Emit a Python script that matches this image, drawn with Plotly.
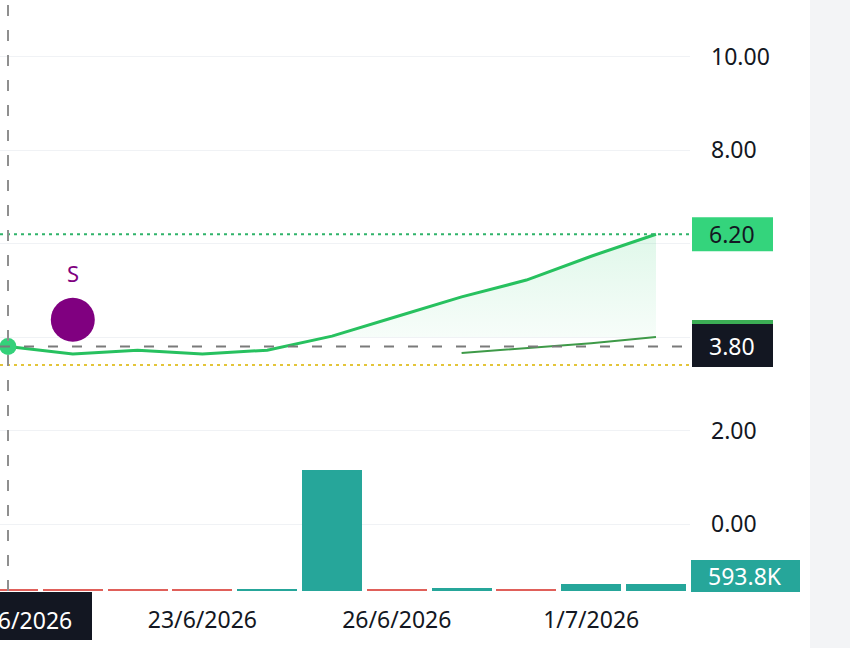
import plotly.graph_objects as go

# ---------------- data ----------------
dates = ["18/6/2026", "19/6/2026", "22/6/2026", "23/6/2026", "24/6/2026", "25/6/2026",
         "26/6/2026", "29/6/2026", "30/6/2026", "1/7/2026", "2/7/2026"]
close = [3.80, 3.64, 3.72, 3.64, 3.72, 4.02, 4.44, 4.86, 5.22, 5.73, 6.20]
ma_dates = ["29/6/2026", "30/6/2026", "1/7/2026", "2/7/2026"]
ma_values = [3.66, 3.77, 3.87, 4.00]
volume = [80e3, 90e3, 90e3, 100e3, 150e3, 9.6e6, 100e3, 250e3, 100e3, 585e3, 593.8e3]
volume_up = [False, False, False, False, True, True, False, True, False, True, True]
tick_dates = ["23/6/2026", "26/6/2026", "1/7/2026"]
price_ticks = [0, 2, 4, 6, 8, 10]
price_tick_text = ["0.00", "2.00", "", "", "8.00", "10.00"]
signal_dates = ["19/6/2026"]
signal_prices = [4.37]
signal_labels = ["S"]
crosshair_date = "18/6/2026"
crosshair_price = 3.80
support_level = 3.40
fill_base = 4.0
volume_label = "593.8K"

# ---------------- geometry helpers ----------------
W, H = 850, 648
PW, PH = 690, 591          # plot area in pixels (left/top at 0)
PX_PER_UNIT = 46.73
ZERO_PX = 524


def xp(px):
    return px / PW


def yp(py):
    return (PH - py) / PH


FONT = "Noto Sans, Open Sans, sans-serif"
TXT = "#131722"
GREEN = "#27c15f"
TEAL = "#26a69a"
RED = "#e0605a"

idx = list(range(len(dates)))
ma_idx = [dates.index(d) for d in ma_dates]
sig_idx = [dates.index(d) for d in signal_dates]
cross_idx = dates.index(crosshair_date)

# fill region where price is above fill_base
fx, fy = [], []
for i in range(1, len(close)):
    a, b = close[i - 1], close[i]
    if a < fill_base <= b:
        t = (fill_base - a) / (b - a)
        fx.append(i - 1 + t)
        fy.append(fill_base)
    if b >= fill_base:
        fx.append(i)
        fy.append(b)
bx = list(fx)
by = [fill_base] * len(fx)

fig = go.Figure()

# volume bars
fig.add_trace(go.Bar(
    x=idx, y=volume, yaxis="y2", width=0.925,
    marker=dict(color=[TEAL if u else RED for u in volume_up], line=dict(width=0)),
    showlegend=False, hoverinfo="skip"))

# fill area
fig.add_trace(go.Scatter(x=bx, y=by, mode="lines", line=dict(width=0, color="rgba(0,0,0,0)"),
                         showlegend=False, hoverinfo="skip"))
fig.add_trace(go.Scatter(
    x=fx, y=fy, mode="lines", line=dict(width=0, color="rgba(0,0,0,0)"), fill="tonexty",
    fillgradient=dict(type="vertical",
                      colorscale=[[0.0, "rgba(46,204,113,0.04)"], [1.0, "rgba(46,204,113,0.15)"]]),
    showlegend=False, hoverinfo="skip"))

# moving average line
fig.add_trace(go.Scatter(x=ma_idx, y=ma_values, mode="lines",
                         line=dict(color="#3e9a48", width=2), showlegend=False))

# price line
fig.add_trace(go.Scatter(x=idx, y=close, mode="lines",
                         line=dict(color=GREEN, width=3), showlegend=False))

# crosshair dot
fig.add_trace(go.Scatter(x=[cross_idx], y=[close[cross_idx]], mode="markers",
                         marker=dict(size=17, color="#34d17a"), showlegend=False))

# signal marker
fig.add_trace(go.Scatter(x=sig_idx, y=signal_prices, mode="markers",
                         marker=dict(size=44, color="#800080", line=dict(width=0)),
                         showlegend=False))

shapes = []
# horizontal reference lines
shapes.append(dict(type="line", xref="paper", yref="y", x0=0, x1=1, y0=close[-1], y1=close[-1],
                   line=dict(color="#2fb36a", width=2, dash="3px,4px")))
shapes.append(dict(type="line", xref="paper", yref="y", x0=0, x1=1, y0=support_level, y1=support_level,
                   line=dict(color="#e3c53a", width=2, dash="3px,4px")))
shapes.append(dict(type="line", xref="paper", yref="y", x0=0, x1=1, y0=crosshair_price, y1=crosshair_price,
                   line=dict(color="#7a7a7a", width=2, dash="10px,14px")))
# vertical crosshair
shapes.append(dict(type="line", xref="x", yref="paper", x0=cross_idx, x1=cross_idx, y0=0, y1=1,
                   line=dict(color="#8f8f8f", width=2, dash="11px,14px")))

# right gray strip
shapes.append(dict(type="rect", xref="paper", yref="paper", x0=xp(810), x1=xp(860), y0=yp(660), y1=yp(-10),
                   fillcolor="#f3f4f6", line=dict(width=0), layer="below"))

# price label boxes
u = 1.0 / PX_PER_UNIT
shapes.append(dict(type="rect", xref="paper", yref="y", x0=xp(692), x1=xp(773),
                   y0=close[-1] - 17 * u, y1=close[-1] + 17 * u,
                   fillcolor="#34d47c", line=dict(width=0), layer="above"))
shapes.append(dict(type="rect", xref="paper", yref="paper", x0=xp(692), x1=xp(773), y0=yp(330), y1=yp(320),
                   fillcolor="#3cae55", line=dict(width=0), layer="above"))
shapes.append(dict(type="rect", xref="paper", yref="paper", x0=xp(692), x1=xp(773), y0=yp(367), y1=yp(324),
                   fillcolor="#131722", line=dict(width=0), layer="above"))
shapes.append(dict(type="rect", xref="paper", yref="paper", x0=xp(691), x1=xp(800), y0=yp(592), y1=yp(560),
                   fillcolor=TEAL, line=dict(width=0), layer="above"))
# crosshair date box
shapes.append(dict(type="rect", xref="paper", yref="paper", x0=xp(-100), x1=xp(92), y0=yp(640), y1=yp(592),
                   fillcolor="#131722", line=dict(width=0), layer="above"))

annotations = []
annotations.append(dict(xref="paper", yref="y", x=xp(732), y=close[-1], text=f"{close[-1]:.2f}",
                        showarrow=False, font=dict(family=FONT, size=23, color=TXT),
                        xanchor="center", yanchor="middle"))
annotations.append(dict(xref="paper", yref="paper", x=xp(732), y=yp(346), text=f"{crosshair_price:.2f}",
                        showarrow=False, font=dict(family=FONT, size=23, color="white"),
                        xanchor="center", yanchor="middle"))
annotations.append(dict(xref="paper", yref="paper", x=xp(745), y=yp(576), text=volume_label,
                        showarrow=False, font=dict(family=FONT, size=23, color="white"),
                        xanchor="center", yanchor="middle"))
annotations.append(dict(xref="paper", yref="paper", x=xp(74), y=yp(620), text=crosshair_date,
                        showarrow=False, font=dict(family=FONT, size=23, color="white"),
                        xanchor="right", yanchor="middle"))
for i, p, lab in zip(sig_idx, signal_prices, signal_labels):
    annotations.append(dict(xref="x", yref="y", x=i, y=p, yshift=47, text=lab, showarrow=False,
                            xanchor="center", yanchor="middle",
                            font=dict(family=FONT, size=22, color="#800080")))

x_lo = -8 / 64.8
x_hi = (PW - 8) / 64.8
y_lo = -(PH - ZERO_PX) / PX_PER_UNIT
y_hi = ZERO_PX / PX_PER_UNIT
vol_hi = volume[-1] / 7.5 * PH

fig.update_layout(
    width=W, height=H,
    margin=dict(l=0, r=W - PW, t=0, b=H - PH),
    paper_bgcolor="white", plot_bgcolor="white",
    showlegend=False,
    bargap=0,
    xaxis=dict(range=[x_lo, x_hi], tickvals=[dates.index(d) for d in tick_dates], ticktext=tick_dates,
               showgrid=False, zeroline=False, showline=False, ticks="",
               tickfont=dict(family=FONT, size=23, color=TXT), ticklabelstandoff=13),
    yaxis=dict(range=[y_lo, y_hi], side="right", tickvals=price_ticks, ticktext=price_tick_text,
               showgrid=True, gridcolor="#f0f2f5", gridwidth=1, zeroline=False, showline=False, ticks="",
               tickfont=dict(family=FONT, size=23, color=TXT), ticklabelstandoff=20),
    yaxis2=dict(range=[0, vol_hi], overlaying="y", side="left", visible=False, showgrid=False),
    shapes=shapes, annotations=annotations,
)

fig.write_html("out.html")
